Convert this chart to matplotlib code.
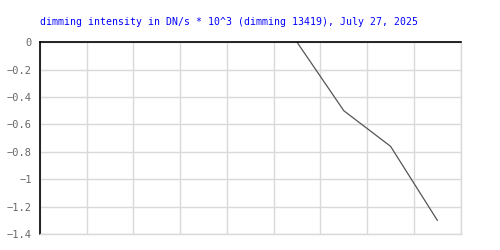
import matplotlib
matplotlib.use('Agg')
import matplotlib.pyplot as plt

# data
binPos = [5.5, 6.5, 7.5, 8.5]          # bin centres (9 bins, no x labels)
intensity = [0.0, -0.5, -0.76, -1.3]   # DN/s * 10^3
yTicks = [0, -0.2, -0.4, -0.6, -0.8, -1, -1.2, -1.4]
yTickLabels = ['0', '\u22120.2', '\u22120.4', '\u22120.6', '\u22120.8', '\u22121', '\u22121.2', '\u22121.4']
title = 'dimming intensity in DN/s * 10^3 (dimming 13419), July 27, 2025'

fig = plt.figure(figsize=(5, 2.5), dpi=100)
ax = fig.add_axes([0.08, 0.064, 0.8414, 0.7668])

ax.plot(binPos, intensity, '-', lw=0.9, color='#555555', clip_on=True)

ax.set_xlim(0, 9)
ax.set_ylim(-1.4, 0)
ax.set_xticks(range(0, 10))
ax.set_xticklabels([])
ax.set_yticks(yTicks)
ax.set_yticklabels(yTickLabels, family='DejaVu Sans Mono', fontsize=7.5, color='#666666')
ax.tick_params(axis='both', length=0, pad=6)
ax.grid(True, color='#d9d9d9', lw=1)
ax.set_axisbelow(True)

for side in ['top', 'left']:
	ax.spines[side].set_color('black')
	ax.spines[side].set_linewidth(1.2)
for side in ['right', 'bottom']:
	ax.spines[side].set_color('#d9d9d9')
	ax.spines[side].set_linewidth(1)

fig.text(0.079, 0.912, title, family='DejaVu Sans Mono', fontsize=7.15,
	color='#0000ff', ha='left', va='center')

fig.savefig('out.png', dpi=100)
